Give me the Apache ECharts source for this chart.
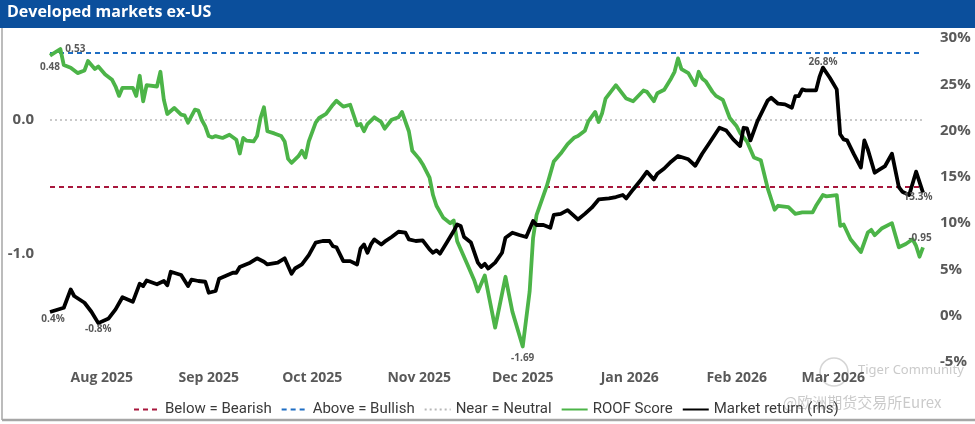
<!DOCTYPE html>
<html><head><meta charset="utf-8">
<script src="https://cdn.jsdelivr.net/npm/echarts@6/dist/echarts.min.js"></script>
<style>html,body{margin:0;padding:0;background:#fff}#c{width:975px;height:424px}</style>
</head><body><div id="c"></div>
<script>
const chartTitle = 'Developed markets ex-US';
const legendNames = ['Below = Bearish', 'Above = Bullish', 'Near = Neutral', 'ROOF Score', 'Market return (rhs)'];
const bearishLevel = -0.5;
const bullishLevel = 0.5;
const neutralLevel = 0;
const monthTicks = ['2025-08-01','2025-09-01','2025-10-01','2025-11-01','2025-12-01','2026-01-01','2026-02-01','2026-03-01'];
const monthNames = ['Jan','Feb','Mar','Apr','May','Jun','Jul','Aug','Sep','Oct','Nov','Dec'];
const leftTicks = [0, -1];

const roofScore = [
['2025-07-17',0.48],['2025-07-20',0.53],['2025-07-21',0.41],['2025-07-23',0.39],['2025-07-25',0.35],
['2025-07-27',0.37],['2025-07-28',0.44],['2025-07-30',0.38],['2025-07-31',0.40],['2025-08-02',0.34],
['2025-08-04',0.30],['2025-08-05',0.25],['2025-08-06',0.18],['2025-08-07',0.24],['2025-08-10',0.24],
['2025-08-11',0.18],['2025-08-12',0.33],['2025-08-13',0.14],['2025-08-14',0.26],['2025-08-17',0.25],
['2025-08-18',0.36],['2025-08-19',0.15],['2025-08-20',0.045],['2025-08-22',0.09],['2025-08-24',0.04],
['2025-08-25',0.035],['2025-08-26',-0.02],['2025-08-28',0.077],['2025-08-29',0.07],['2025-08-30',0.0],
['2025-08-31',-0.047],['2025-09-01',-0.12],['2025-09-02',-0.13],['2025-09-03',-0.12],['2025-09-05',-0.134],
['2025-09-07',-0.11],['2025-09-09',-0.147],['2025-09-10',-0.25],['2025-09-11',-0.134],['2025-09-12',-0.154],
['2025-09-14',-0.16],['2025-09-15',-0.12],['2025-09-16',0.015],['2025-09-17',0.095],['2025-09-18',-0.084],
['2025-09-20',-0.10],['2025-09-22',-0.12],['2025-09-23',-0.16],['2025-09-24',-0.29],['2025-09-25',-0.32],
['2025-09-27',-0.27],['2025-09-28',-0.23],['2025-09-29',-0.28],['2025-09-30',-0.16],['2025-10-02',-0.02],
['2025-10-03',0.015],['2025-10-05',0.045],['2025-10-07',0.114],['2025-10-08',0.144],['2025-10-10',0.10],
['2025-10-12',0.114],['2025-10-14',-0.04],['2025-10-15',-0.03],['2025-10-16',-0.084],['2025-10-17',-0.03],
['2025-10-19',0.02],['2025-10-21',-0.015],['2025-10-22',-0.065],['2025-10-24',0.002],['2025-10-26',0.02],
['2025-10-27',0.06],['2025-10-29',-0.084],['2025-10-30',-0.23],['2025-11-01',-0.29],['2025-11-02',-0.33],
['2025-11-04',-0.43],['2025-11-05',-0.56],['2025-11-06',-0.64],['2025-11-08',-0.73],['2025-11-10',-0.77],
['2025-11-11',-0.75],['2025-11-12',-0.905],['2025-11-15',-1.08],['2025-11-17',-1.20],['2025-11-18',-1.28],
['2025-11-20',-1.16],['2025-11-23',-1.55],['2025-11-26',-1.17],['2025-11-28',-1.43],['2025-12-01',-1.69],
['2025-12-03',-1.28],['2025-12-04',-0.88],['2025-12-05',-0.71],['2025-12-08',-0.49],['2025-12-10',-0.31],
['2025-12-12',-0.25],['2025-12-14',-0.18],['2025-12-16',-0.13],['2025-12-17',-0.12],['2025-12-19',-0.08],
['2025-12-20',-0.01],['2025-12-22',0.06],['2025-12-23',-0.015],['2025-12-24',0.05],['2025-12-25',0.16],
['2025-12-28',0.26],['2025-12-31',0.16],['2026-01-02',0.14],['2026-01-05',0.22],['2026-01-06',0.21],
['2026-01-08',0.14],['2026-01-09',0.20],['2026-01-11',0.226],['2026-01-13',0.31],['2026-01-14',0.36],
['2026-01-15',0.46],['2026-01-16',0.38],['2026-01-18',0.35],['2026-01-20',0.26],['2026-01-21',0.36],
['2026-01-22',0.31],['2026-01-23',0.29],['2026-01-25',0.21],['2026-01-26',0.18],['2026-01-28',0.15],
['2026-01-30',0.015],['2026-02-01',-0.047],['2026-02-02',-0.097],['2026-02-04',-0.16],['2026-02-06',-0.28],
['2026-02-08',-0.30],['2026-02-10',-0.51],['2026-02-12',-0.67],['2026-02-13',-0.64],['2026-02-16',-0.65],
['2026-02-18',-0.70],['2026-02-20',-0.69],['2026-02-23',-0.69],['2026-02-24',-0.64],['2026-02-26',-0.56],
['2026-02-27',-0.57],['2026-03-02',-0.56],['2026-03-03',-0.79],['2026-03-04',-0.78],['2026-03-06',-0.89],
['2026-03-09',-0.985],['2026-03-11',-0.84],['2026-03-12',-0.82],['2026-03-13',-0.86],['2026-03-15',-0.81],
['2026-03-18',-0.77],['2026-03-20',-0.95],['2026-03-22',-0.925],['2026-03-24',-0.89],['2026-03-25',-0.94],
['2026-03-26',-1.02],['2026-03-27',-0.95]
];

const marketReturn = [
['2025-07-17',0.4],['2025-07-21',0.86],['2025-07-23',2.84],['2025-07-24',2.13],['2025-07-27',1.4],
['2025-07-29',0.43],['2025-07-31',-0.8],['2025-08-03',-0.29],['2025-08-05',0.68],['2025-08-07',2.0],
['2025-08-10',1.5],['2025-08-12',3.46],['2025-08-13',3.2],['2025-08-14',3.8],['2025-08-17',3.4],
['2025-08-19',3.75],['2025-08-20',3.3],['2025-08-21',4.75],['2025-08-24',4.4],['2025-08-26',3.2],
['2025-08-27',3.9],['2025-08-29',3.75],['2025-08-31',3.67],['2025-09-01',2.48],['2025-09-03',2.67],
['2025-09-04',4.0],['2025-09-08',4.64],['2025-09-09',4.64],['2025-09-10',5.26],['2025-09-13',5.73],
['2025-09-15',6.2],['2025-09-17',5.83],['2025-09-18',5.54],['2025-09-21',5.73],['2025-09-23',6.2],
['2025-09-25',4.54],['2025-09-26',5.1],['2025-09-28',5.54],['2025-09-30',6.55],['2025-10-02',7.9],
['2025-10-04',8.07],['2025-10-06',8.07],['2025-10-07',7.5],['2025-10-08',7.4],['2025-10-10',5.9],
['2025-10-12',5.9],['2025-10-14',5.54],['2025-10-15',7.27],['2025-10-16',7.7],['2025-10-17',6.8],
['2025-10-18',7.7],['2025-10-19',8.24],['2025-10-21',7.7],['2025-10-22',8.0],['2025-10-24',8.5],
['2025-10-26',9.07],['2025-10-28',8.97],['2025-10-29',8.24],['2025-10-31',8.07],['2025-11-02',8.14],
['2025-11-04',7.16],['2025-11-05',6.8],['2025-11-06',7.05],['2025-11-07',6.7],['2025-11-09',7.9],
['2025-11-11',9.15],['2025-11-12',9.86],['2025-11-13',9.7],['2025-11-14',8.5],['2025-11-16',7.9],
['2025-11-18',5.73],['2025-11-19',5.26],['2025-11-20',5.6],['2025-11-21',5.1],['2025-11-23',5.73],
['2025-11-25',6.8],['2025-11-26',8.43],['2025-11-28',8.97],['2025-11-30',8.72],['2025-12-02',8.5],
['2025-12-04',10.23],['2025-12-05',9.8],['2025-12-07',9.8],['2025-12-09',9.5],['2025-12-10',10.88],
['2025-12-12',11.0],['2025-12-14',11.4],['2025-12-17',10.4],['2025-12-19',11.0],['2025-12-21',11.67],
['2025-12-23',12.56],['2025-12-26',12.67],['2025-12-28',12.82],['2025-12-30',13.04],['2025-12-31',12.67],
['2026-01-02',13.64],['2026-01-04',14.55],['2026-01-06',15.56],['2026-01-08',14.72],['2026-01-09',15.34],
['2026-01-11',15.9],['2026-01-13',16.64],['2026-01-15',17.25],['2026-01-18',16.9],['2026-01-20',16.2],
['2026-01-22',17.5],['2026-01-24',18.6],['2026-01-27',20.3],['2026-01-29',20.0],['2026-01-31',19.05],
['2026-02-02',18.33],['2026-02-03',20.3],['2026-02-04',20.23],['2026-02-05',18.94],['2026-02-07',21.0],
['2026-02-10',23.26],['2026-02-11',23.55],['2026-02-13',22.9],['2026-02-15',22.83],['2026-02-17',22.47],
['2026-02-18',23.73],['2026-02-19',23.73],['2026-02-20',24.45],['2026-02-21',24.34],['2026-02-24',24.34],
['2026-02-25',25.8],['2026-02-26',26.8],['2026-02-28',25.7],['2026-03-02',24.45],['2026-03-03',19.6],
['2026-03-04',19.05],['2026-03-05',18.94],['2026-03-07',17.42],['2026-03-09',16.0],['2026-03-10',18.94],
['2026-03-11',17.97],['2026-03-13',15.45],['2026-03-14',15.7],['2026-03-16',16.17],['2026-03-18',17.5],
['2026-03-20',13.9],['2026-03-21',13.4],['2026-03-23',13.04],['2026-03-25',15.56],['2026-03-27',13.3]
];

function ts(s){const p=s.split('-').map(Number);return Date.UTC(p[0],p[1]-1,p[2]);}
function idxMin(a){let k=0;a.forEach((d,i)=>{if(d[1]<a[k][1])k=i;});return k;}
function idxMax(a){let k=0;a.forEach((d,i)=>{if(d[1]>a[k][1])k=i;});return k;}
function toPairs(arr){return arr.map(d=>[ts(d[0]), d[1]]);}

const labelBase = {show:true,fontSize:10,fontWeight:'bold',color:'#595959',fontFamily:'"Open Sans", sans-serif'};
function buildMarks(arr, fmt, spec){
  return Object.keys(spec).map(k=>{
    const d = arr[+k];
    return {coord:[ts(d[0]), d[1]], symbolSize:0,
      label:Object.assign({}, labelBase, {formatter: fmt(d[1])}, spec[k])};
  });
}
const roofSpec = {};
roofSpec[0] = {position:'bottom',distance:6};
roofSpec[idxMax(roofScore)] = {position:'right',distance:5};
roofSpec[idxMin(roofScore)] = {position:'bottom',distance:7};
roofSpec[roofScore.length-1] = {position:'top',distance:4,offset:[-3,0]};
const mktSpec = {};
mktSpec[0] = {position:'bottom',distance:2,offset:[3,0]};
mktSpec[idxMin(marketReturn)] = {position:'bottom',distance:1};
mktSpec[idxMax(marketReturn)] = {position:'top',distance:0};
mktSpec[marketReturn.length-1] = {position:'bottom',distance:0,offset:[-5,0]};

const xStart = ts(roofScore[0][0]);
const xEnd = ts(roofScore[roofScore.length-1][0]);
function levelLine(v){return [[xStart,v],[xEnd,v]];}

const axisFont = {fontSize:15,fontWeight:'bold',color:'#595959',fontFamily:'"Open Sans", sans-serif'};

const chart = echarts.init(document.getElementById('c'));
chart.setOption({
  animation:false,
  backgroundColor:'#fff',
  graphic:[
    {type:'rect',left:0,top:0,shape:{width:975,height:28},style:{fill:'#0b4f9c'}},
    {type:'text',left:7,top:4,style:{text:chartTitle,fill:'#fff',font:'bold 16px "Open Sans", sans-serif'}},
    {type:'line',shape:{x1:2,y1:28,x2:2,y2:420},style:{stroke:'#a6a6a6',lineWidth:1.5}},
    {type:'line',shape:{x1:2,y1:420,x2:975,y2:420},style:{stroke:'#a6a6a6',lineWidth:2.5}},
    {type:'circle',shape:{cx:834,cy:372,r:14},style:{fill:'none',stroke:'rgba(150,150,150,0.4)',lineWidth:1.5}},
    {type:'text',left:858,top:364,style:{text:'Tiger Community',fill:'rgba(150,150,150,0.5)',font:'13px "Noto Sans", sans-serif'}},
    {type:'text',left:783,top:395,style:{text:'@欧洲期货交易所Eurex',fill:'rgba(150,150,150,0.5)',font:'15px "Noto Sans CJK SC", sans-serif'}}
  ],
  grid:{left:50,right:52,top:38,bottom:62},
  legend:{
    left:128,top:397,itemWidth:26,itemHeight:8,itemGap:9,
    itemStyle:{opacity:0},
    textStyle:{fontSize:15,color:'#3a3a3a',fontFamily:'"Roboto", sans-serif'},
    data:legendNames
  },
  xAxis:{
    type:'value',min:xStart,max:xEnd,
    axisLine:{show:false},axisTick:{show:false},splitLine:{show:false},
    axisLabel:Object.assign({},axisFont,{fontSize:14,margin:9,
      customValues:monthTicks.map(ts),
      formatter:function(v){const d=new Date(v);return monthNames[d.getUTCMonth()]+' '+d.getUTCFullYear();}
    })
  },
  yAxis:[
    {type:'value',min:-1.806,max:0.612,
      axisLine:{show:false},axisTick:{show:false},splitLine:{show:false},
      axisLabel:Object.assign({},axisFont,{margin:16,customValues:leftTicks,formatter:function(v){return v.toFixed(1);}})
    },
    {type:'value',min:-5,max:30,interval:5,position:'right',
      axisLine:{show:false},axisTick:{show:false},splitLine:{show:false},
      axisLabel:Object.assign({},axisFont,{margin:17,formatter:'{value}%'})
    }
  ],
  series:[
    {name:legendNames[0],type:'line',yAxisIndex:0,symbol:'none',silent:true,data:levelLine(bearishLevel),
      lineStyle:{color:'#a8173d',width:2,type:[5,4]},itemStyle:{color:'#a8173d'}},
    {name:legendNames[1],type:'line',yAxisIndex:0,symbol:'none',silent:true,data:levelLine(bullishLevel),
      lineStyle:{color:'#1f6ec4',width:2,type:[5,4]},itemStyle:{color:'#1f6ec4'}},
    {name:legendNames[2],type:'line',yAxisIndex:0,symbol:'none',silent:true,data:levelLine(neutralLevel),
      lineStyle:{color:'#b8b8b8',width:1.5,type:[2,3]},itemStyle:{color:'#b8b8b8'}},
    {name:legendNames[3],type:'line',yAxisIndex:0,symbol:'none',
      data:toPairs(roofScore),
      lineStyle:{color:'#4cb448',width:3.8,join:'round'},itemStyle:{color:'#4cb448'},
      markPoint:{symbol:'circle',symbolSize:0,silent:true,data:buildMarks(roofScore,v=>v.toFixed(2),roofSpec)}},
    {name:legendNames[4],type:'line',yAxisIndex:1,symbol:'none',
      data:toPairs(marketReturn),
      lineStyle:{color:'#000',width:3.8,join:'round'},itemStyle:{color:'#000'},
      markPoint:{symbol:'circle',symbolSize:0,silent:true,data:buildMarks(marketReturn,v=>v.toFixed(1)+'%',mktSpec)}}
  ]
});
</script></body></html>
